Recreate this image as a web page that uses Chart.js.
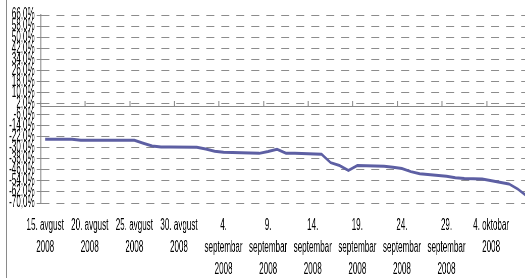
<!DOCTYPE html>
<html>
<head>
<meta charset="utf-8">
<script src="https://cdn.jsdelivr.net/npm/chart.js@4/dist/chart.umd.min.js"></script>
<style>
  html, body { margin: 0; padding: 0; background: #fff; overflow: hidden; }
  #wrap { position: relative; width: 525px; height: 278px; }
  #c { position: absolute; left: 0; top: 0; }
  #edge { position: absolute; left: 6px; top: 0; width: 1px; height: 278px; background: #8a8a8a; }
</style>
</head>
<body>
<div id="wrap"><canvas id="c"></canvas><div id="edge"></div></div>
<script>
// ---- Data (trading days, change in %) -------------------------
var dates = [
  '2008-08-15', '2008-08-18', '2008-08-19', '2008-08-20', '2008-08-21', '2008-08-22',
  '2008-08-25', '2008-08-26', '2008-08-27', '2008-08-28', '2008-08-29',
  '2008-09-01', '2008-09-02', '2008-09-03', '2008-09-04', '2008-09-05',
  '2008-09-08', '2008-09-09', '2008-09-10', '2008-09-11', '2008-09-12',
  '2008-09-15', '2008-09-16', '2008-09-17', '2008-09-18', '2008-09-19',
  '2008-09-22', '2008-09-23', '2008-09-24', '2008-09-25', '2008-09-26',
  '2008-09-29', '2008-09-30', '2008-10-01', '2008-10-02', '2008-10-03',
  '2008-10-06', '2008-10-07', '2008-10-08'
];
var values = [
  -23.8, -23.8, -24.6, -24.6, -24.6, -24.6,
  -24.6, -26.8, -28.8, -29.5, -29.5,
  -29.6, -31.0, -32.6, -33.2, -33.4,
  -34.1, -32.8, -31.2, -34.0, -34.1,
  -34.8, -40.8, -42.9, -46.5, -42.9,
  -43.5, -44.2, -45.0, -47.3, -48.8,
  -50.6, -51.8, -52.3, -52.5, -52.6,
  -56.2, -60.0, -65.0
];

// ---- Axis labels -----------------------------------------------
var xTickDates = [
  '2008-08-15', '2008-08-20', '2008-08-25', '2008-08-30', '2008-09-04', '2008-09-09',
  '2008-09-14', '2008-09-19', '2008-09-24', '2008-09-29', '2008-10-04'
];
var xTickLabels = [
  ['15. avgust', '2008'], ['20. avgust', '2008'], ['25. avgust', '2008'], ['30. avgust', '2008'],
  ['4.', 'septembar', '2008'], ['9.', 'septembar', '2008'], ['14.', 'septembar', '2008'],
  ['19.', 'septembar', '2008'], ['24.', 'septembar', '2008'], ['29.', 'septembar', '2008'],
  ['4. oktobar', '2008']
];
var yTicks = [-70, -62, -54, -46, -38, -30, -22, -14, -6, 2, 10, 18, 26, 34, 42, 50, 58, 66];

// ---- Helpers ---------------------------------------------------
var BASE = Date.parse(dates[0]);
function dayOf(d) { return (Date.parse(d) - BASE) / 864e5; }

function pct(v) { return v.toFixed(1).replace('.', ',') + '%'; }

// Narrow face present? (text in the picture is very condensed)
var probe = document.createElement('canvas').getContext('2d');
probe.font = '16px monospace';
var w0 = probe.measureText('septembar 2008').width;
probe.font = '16px "Liberation Sans Narrow", monospace';
var w1 = probe.measureText('septembar 2008').width;
var hasNarrow = Math.abs(w1 - w0) > 0.5;
var FONT = hasNarrow ? '"Liberation Sans Narrow", "Liberation Sans", sans-serif' : '"Liberation Sans", sans-serif';
var SX = hasNarrow ? 0.615 : 0.505;   // horizontal squeeze of the whole canvas
var FS = 16;

var W = Math.round(525 / SX);
var H = 278;

var points = dates.map(function (d, i) { return { x: dayOf(d), y: values[i] }; });
var xTickDays = xTickDates.map(dayOf);
var xBounds = xTickDays.map(function (d) { return d - 0.5; });

var canvas = document.getElementById('c');
canvas.width = W;
canvas.height = H;
canvas.style.width = '525px';
canvas.style.height = H + 'px';

var GRID = '#8c8c8c';
var AXIS = '#878787';

new Chart(canvas, {
  type: 'line',
  data: {
    datasets: [{
      data: points,
      borderColor: '#5d5fa3',
      borderWidth: 3,
      pointRadius: 0,
      tension: 0,
      fill: false,
      xAxisID: 'x',
      yAxisID: 'y'
    }]
  },
  options: {
    responsive: false,
    animation: false,
    devicePixelRatio: 1,
    layout: { padding: { top: 15, left: 0, right: 0, bottom: 0 } },
    plugins: { legend: { display: false }, tooltip: { enabled: false } },
    scales: {
      x: {
        type: 'linear',
        position: 'bottom',
        min: -0.5,
        max: 53.8,
        afterBuildTicks: function (s) { s.ticks = xTickDays.map(function (v) { return { value: v }; }); },
        afterFit: function (s) { s.height = 75; },
        grid: { display: false, drawTicks: false },
        border: { display: false },
        ticks: {
          autoSkip: false,
          maxRotation: 0,
          minRotation: 0,
          padding: 11,
          color: '#000',
          font: { family: FONT, size: FS, lineHeight: 22.4 / FS },
          callback: function (v, i) { return xTickLabels[i]; }
        }
      },
      x2: {
        type: 'linear',
        axis: 'x',
        position: { y: 0 },
        min: -0.5,
        max: 53.8,
        afterBuildTicks: function (s) { s.ticks = xBounds.map(function (v) { return { value: v }; }); },
        grid: {
          drawOnChartArea: false,
          drawTicks: true,
          tickLength: -6,
          tickColor: AXIS,
          tickWidth: 1 / SX,
          tickBorderDash: []
        },
        border: { display: true, color: AXIS, width: 1 },
        ticks: { display: false }
      },
      y: {
        type: 'linear',
        position: 'left',
        min: -70,
        max: 66,
        afterBuildTicks: function (s) { s.ticks = yTicks.map(function (v) { return { value: v }; }); },
        afterFit: function (s) { s.width = 40.7 / SX; },
        grid: {
          color: GRID,
          lineWidth: 1,
          drawTicks: true,
          tickLength: 4 / SX,
          tickColor: AXIS,
          tickBorderDash: []
        },
        border: { display: true, color: AXIS, width: 1 / SX, dash: [8 / SX, 7 / SX] },
        ticks: {
          autoSkip: false,
          padding: 2 / SX,
          color: '#000',
          font: { family: FONT, size: FS },
          callback: function (v) { return pct(v); }
        }
      }
    }
  }
});
</script>
</body>
</html>
